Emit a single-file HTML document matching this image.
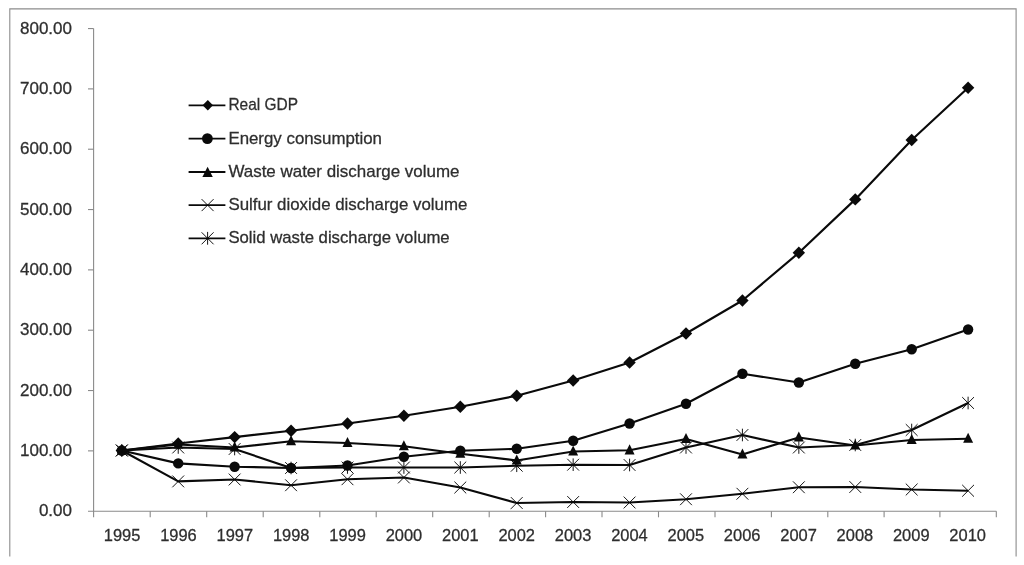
<!DOCTYPE html>
<html><head><meta charset="utf-8"><title>chart</title>
<style>
html,body{margin:0;padding:0;background:#fff;}
body{width:1024px;height:565px;overflow:hidden;}
svg{display:block;will-change:transform;}
text{font-family:"Liberation Sans",sans-serif;fill:#2e2e2e;stroke:#2e2e2e;stroke-width:0.28px;}
</style></head><body>
<svg width="1024" height="565" viewBox="0 0 1024 565">
<rect width="1024" height="565" fill="#fff"/>
<path d="M9.8 556.4V8.9H1016.1V556.4" fill="none" stroke="#8c8c8c" stroke-width="1.1"/>
<path d="M93.60 28.6V517.30" stroke="#8a8a8a" stroke-width="1.1" fill="none"/>
<path d="M88.00 511.20H996.40" stroke="#8a8a8a" stroke-width="1.1" fill="none"/>
<text x="38.90" y="516.30" font-size="17" textLength="33.1" lengthAdjust="spacingAndGlyphs">0.00</text>
<path d="M88.00 450.87H93.60" stroke="#8a8a8a" stroke-width="1.1" fill="none"/>
<text x="20.00" y="455.97" font-size="17" textLength="52.0" lengthAdjust="spacingAndGlyphs">100.00</text>
<path d="M88.00 390.54H93.60" stroke="#8a8a8a" stroke-width="1.1" fill="none"/>
<text x="20.00" y="395.64" font-size="17" textLength="52.0" lengthAdjust="spacingAndGlyphs">200.00</text>
<path d="M88.00 330.21H93.60" stroke="#8a8a8a" stroke-width="1.1" fill="none"/>
<text x="20.00" y="335.31" font-size="17" textLength="52.0" lengthAdjust="spacingAndGlyphs">300.00</text>
<path d="M88.00 269.88H93.60" stroke="#8a8a8a" stroke-width="1.1" fill="none"/>
<text x="20.00" y="274.98" font-size="17" textLength="52.0" lengthAdjust="spacingAndGlyphs">400.00</text>
<path d="M88.00 209.55H93.60" stroke="#8a8a8a" stroke-width="1.1" fill="none"/>
<text x="20.00" y="214.65" font-size="17" textLength="52.0" lengthAdjust="spacingAndGlyphs">500.00</text>
<path d="M88.00 149.22H93.60" stroke="#8a8a8a" stroke-width="1.1" fill="none"/>
<text x="20.00" y="154.32" font-size="17" textLength="52.0" lengthAdjust="spacingAndGlyphs">600.00</text>
<path d="M88.00 88.89H93.60" stroke="#8a8a8a" stroke-width="1.1" fill="none"/>
<text x="20.00" y="93.99" font-size="17" textLength="52.0" lengthAdjust="spacingAndGlyphs">700.00</text>
<path d="M88.00 28.56H93.60" stroke="#8a8a8a" stroke-width="1.1" fill="none"/>
<text x="20.00" y="33.66" font-size="17" textLength="52.0" lengthAdjust="spacingAndGlyphs">800.00</text>
<path d="M150.20 511.20V517.30" stroke="#8a8a8a" stroke-width="1.1" fill="none"/>
<path d="M206.70 511.20V517.30" stroke="#8a8a8a" stroke-width="1.1" fill="none"/>
<path d="M263.20 511.20V517.30" stroke="#8a8a8a" stroke-width="1.1" fill="none"/>
<path d="M319.80 511.20V517.30" stroke="#8a8a8a" stroke-width="1.1" fill="none"/>
<path d="M376.20 511.20V517.30" stroke="#8a8a8a" stroke-width="1.1" fill="none"/>
<path d="M432.70 511.20V517.30" stroke="#8a8a8a" stroke-width="1.1" fill="none"/>
<path d="M489.20 511.20V517.30" stroke="#8a8a8a" stroke-width="1.1" fill="none"/>
<path d="M545.60 511.20V517.30" stroke="#8a8a8a" stroke-width="1.1" fill="none"/>
<path d="M602.00 511.20V517.30" stroke="#8a8a8a" stroke-width="1.1" fill="none"/>
<path d="M658.50 511.20V517.30" stroke="#8a8a8a" stroke-width="1.1" fill="none"/>
<path d="M715.00 511.20V517.30" stroke="#8a8a8a" stroke-width="1.1" fill="none"/>
<path d="M771.40 511.20V517.30" stroke="#8a8a8a" stroke-width="1.1" fill="none"/>
<path d="M827.80 511.20V517.30" stroke="#8a8a8a" stroke-width="1.1" fill="none"/>
<path d="M884.10 511.20V517.30" stroke="#8a8a8a" stroke-width="1.1" fill="none"/>
<path d="M939.90 511.20V517.30" stroke="#8a8a8a" stroke-width="1.1" fill="none"/>
<path d="M996.30 511.20V517.30" stroke="#8a8a8a" stroke-width="1.1" fill="none"/>
<text x="103.80" y="541.1" font-size="17" textLength="36.6" lengthAdjust="spacingAndGlyphs">1995</text>
<text x="160.17" y="541.1" font-size="17" textLength="36.6" lengthAdjust="spacingAndGlyphs">1996</text>
<text x="216.54" y="541.1" font-size="17" textLength="36.6" lengthAdjust="spacingAndGlyphs">1997</text>
<text x="272.91" y="541.1" font-size="17" textLength="36.6" lengthAdjust="spacingAndGlyphs">1998</text>
<text x="329.28" y="541.1" font-size="17" textLength="36.6" lengthAdjust="spacingAndGlyphs">1999</text>
<text x="385.65" y="541.1" font-size="17" textLength="36.6" lengthAdjust="spacingAndGlyphs">2000</text>
<text x="442.02" y="541.1" font-size="17" textLength="36.6" lengthAdjust="spacingAndGlyphs">2001</text>
<text x="498.39" y="541.1" font-size="17" textLength="36.6" lengthAdjust="spacingAndGlyphs">2002</text>
<text x="554.76" y="541.1" font-size="17" textLength="36.6" lengthAdjust="spacingAndGlyphs">2003</text>
<text x="611.13" y="541.1" font-size="17" textLength="36.6" lengthAdjust="spacingAndGlyphs">2004</text>
<text x="667.50" y="541.1" font-size="17" textLength="36.6" lengthAdjust="spacingAndGlyphs">2005</text>
<text x="723.87" y="541.1" font-size="17" textLength="36.6" lengthAdjust="spacingAndGlyphs">2006</text>
<text x="780.24" y="541.1" font-size="17" textLength="36.6" lengthAdjust="spacingAndGlyphs">2007</text>
<text x="836.61" y="541.1" font-size="17" textLength="36.6" lengthAdjust="spacingAndGlyphs">2008</text>
<text x="892.98" y="541.1" font-size="17" textLength="36.6" lengthAdjust="spacingAndGlyphs">2009</text>
<text x="949.35" y="541.1" font-size="17" textLength="36.6" lengthAdjust="spacingAndGlyphs">2010</text>
<polyline fill="none" stroke="#0a0a0a" stroke-width="2.15" stroke-linejoin="round" points="121.80,450.50 178.22,443.50 234.64,437.10 291.06,430.75 347.48,423.50 403.90,415.75 460.32,406.75 516.74,395.75 573.16,380.50 629.58,362.50 686.00,333.50 742.42,300.50 798.84,252.75 855.26,199.40 911.68,140.00 968.10,87.75"/>
<path d="M121.80 444.30L128.00 450.50L121.80 456.70L115.60 450.50Z" fill="#0a0a0a"/>
<path d="M178.22 437.30L184.42 443.50L178.22 449.70L172.02 443.50Z" fill="#0a0a0a"/>
<path d="M234.64 430.90L240.84 437.10L234.64 443.30L228.44 437.10Z" fill="#0a0a0a"/>
<path d="M291.06 424.55L297.26 430.75L291.06 436.95L284.86 430.75Z" fill="#0a0a0a"/>
<path d="M347.48 417.30L353.68 423.50L347.48 429.70L341.28 423.50Z" fill="#0a0a0a"/>
<path d="M403.90 409.55L410.10 415.75L403.90 421.95L397.70 415.75Z" fill="#0a0a0a"/>
<path d="M460.32 400.55L466.52 406.75L460.32 412.95L454.12 406.75Z" fill="#0a0a0a"/>
<path d="M516.74 389.55L522.94 395.75L516.74 401.95L510.54 395.75Z" fill="#0a0a0a"/>
<path d="M573.16 374.30L579.36 380.50L573.16 386.70L566.96 380.50Z" fill="#0a0a0a"/>
<path d="M629.58 356.30L635.78 362.50L629.58 368.70L623.38 362.50Z" fill="#0a0a0a"/>
<path d="M686.00 327.30L692.20 333.50L686.00 339.70L679.80 333.50Z" fill="#0a0a0a"/>
<path d="M742.42 294.30L748.62 300.50L742.42 306.70L736.22 300.50Z" fill="#0a0a0a"/>
<path d="M798.84 246.55L805.04 252.75L798.84 258.95L792.64 252.75Z" fill="#0a0a0a"/>
<path d="M855.26 193.20L861.46 199.40L855.26 205.60L849.06 199.40Z" fill="#0a0a0a"/>
<path d="M911.68 133.80L917.88 140.00L911.68 146.20L905.48 140.00Z" fill="#0a0a0a"/>
<path d="M968.10 81.55L974.30 87.75L968.10 93.95L961.90 87.75Z" fill="#0a0a0a"/>
<polyline fill="none" stroke="#0a0a0a" stroke-width="2.15" stroke-linejoin="round" points="121.80,450.50 178.22,463.40 234.64,466.70 291.06,468.00 347.48,465.50 403.90,456.75 460.32,450.75 516.74,448.75 573.16,440.75 629.58,423.50 686.00,403.75 742.42,373.75 798.84,382.50 855.26,363.75 911.68,349.25 968.10,329.50"/>
<circle cx="121.80" cy="450.50" r="5.2" fill="#0a0a0a"/>
<circle cx="178.22" cy="463.40" r="5.2" fill="#0a0a0a"/>
<circle cx="234.64" cy="466.70" r="5.2" fill="#0a0a0a"/>
<circle cx="291.06" cy="468.00" r="5.2" fill="#0a0a0a"/>
<circle cx="347.48" cy="465.50" r="5.2" fill="#0a0a0a"/>
<circle cx="403.90" cy="456.75" r="5.2" fill="#0a0a0a"/>
<circle cx="460.32" cy="450.75" r="5.2" fill="#0a0a0a"/>
<circle cx="516.74" cy="448.75" r="5.2" fill="#0a0a0a"/>
<circle cx="573.16" cy="440.75" r="5.2" fill="#0a0a0a"/>
<circle cx="629.58" cy="423.50" r="5.2" fill="#0a0a0a"/>
<circle cx="686.00" cy="403.75" r="5.2" fill="#0a0a0a"/>
<circle cx="742.42" cy="373.75" r="5.2" fill="#0a0a0a"/>
<circle cx="798.84" cy="382.50" r="5.2" fill="#0a0a0a"/>
<circle cx="855.26" cy="363.75" r="5.2" fill="#0a0a0a"/>
<circle cx="911.68" cy="349.25" r="5.2" fill="#0a0a0a"/>
<circle cx="968.10" cy="329.50" r="5.2" fill="#0a0a0a"/>
<polyline fill="none" stroke="#0a0a0a" stroke-width="2.15" stroke-linejoin="round" points="121.80,450.50 178.22,444.50 234.64,447.50 291.06,441.25 347.48,443.00 403.90,446.25 460.32,453.75 516.74,460.50 573.16,451.50 629.58,450.30 686.00,439.00 742.42,454.50 798.84,437.50 855.26,445.50 911.68,440.00 968.10,438.75"/>
<path d="M121.80 444.50L126.80 454.60L116.80 454.60Z" fill="#0a0a0a"/>
<path d="M178.22 438.50L183.22 448.60L173.22 448.60Z" fill="#0a0a0a"/>
<path d="M234.64 441.50L239.64 451.60L229.64 451.60Z" fill="#0a0a0a"/>
<path d="M291.06 435.25L296.06 445.35L286.06 445.35Z" fill="#0a0a0a"/>
<path d="M347.48 437.00L352.48 447.10L342.48 447.10Z" fill="#0a0a0a"/>
<path d="M403.90 440.25L408.90 450.35L398.90 450.35Z" fill="#0a0a0a"/>
<path d="M460.32 447.75L465.32 457.85L455.32 457.85Z" fill="#0a0a0a"/>
<path d="M516.74 454.50L521.74 464.60L511.74 464.60Z" fill="#0a0a0a"/>
<path d="M573.16 445.50L578.16 455.60L568.16 455.60Z" fill="#0a0a0a"/>
<path d="M629.58 444.30L634.58 454.40L624.58 454.40Z" fill="#0a0a0a"/>
<path d="M686.00 433.00L691.00 443.10L681.00 443.10Z" fill="#0a0a0a"/>
<path d="M742.42 448.50L747.42 458.60L737.42 458.60Z" fill="#0a0a0a"/>
<path d="M798.84 431.50L803.84 441.60L793.84 441.60Z" fill="#0a0a0a"/>
<path d="M855.26 439.50L860.26 449.60L850.26 449.60Z" fill="#0a0a0a"/>
<path d="M911.68 434.00L916.68 444.10L906.68 444.10Z" fill="#0a0a0a"/>
<path d="M968.10 432.75L973.10 442.85L963.10 442.85Z" fill="#0a0a0a"/>
<polyline fill="none" stroke="#0a0a0a" stroke-width="2.15" stroke-linejoin="round" points="121.80,450.50 178.22,481.40 234.64,479.50 291.06,485.25 347.48,479.25 403.90,477.50 460.32,487.50 516.74,503.00 573.16,502.00 629.58,502.50 686.00,499.25 742.42,493.75 798.84,487.25 855.26,487.00 911.68,489.50 968.10,490.75"/>
<path d="M115.90 444.60L127.70 456.40M115.90 456.40L127.70 444.60" stroke="#0a0a0a" stroke-width="0.95" fill="none"/>
<path d="M172.32 475.50L184.12 487.30M172.32 487.30L184.12 475.50" stroke="#0a0a0a" stroke-width="0.95" fill="none"/>
<path d="M228.74 473.60L240.54 485.40M228.74 485.40L240.54 473.60" stroke="#0a0a0a" stroke-width="0.95" fill="none"/>
<path d="M285.16 479.35L296.96 491.15M285.16 491.15L296.96 479.35" stroke="#0a0a0a" stroke-width="0.95" fill="none"/>
<path d="M341.58 473.35L353.38 485.15M341.58 485.15L353.38 473.35" stroke="#0a0a0a" stroke-width="0.95" fill="none"/>
<path d="M398.00 471.60L409.80 483.40M398.00 483.40L409.80 471.60" stroke="#0a0a0a" stroke-width="0.95" fill="none"/>
<path d="M454.42 481.60L466.22 493.40M454.42 493.40L466.22 481.60" stroke="#0a0a0a" stroke-width="0.95" fill="none"/>
<path d="M510.84 497.10L522.64 508.90M510.84 508.90L522.64 497.10" stroke="#0a0a0a" stroke-width="0.95" fill="none"/>
<path d="M567.26 496.10L579.06 507.90M567.26 507.90L579.06 496.10" stroke="#0a0a0a" stroke-width="0.95" fill="none"/>
<path d="M623.68 496.60L635.48 508.40M623.68 508.40L635.48 496.60" stroke="#0a0a0a" stroke-width="0.95" fill="none"/>
<path d="M680.10 493.35L691.90 505.15M680.10 505.15L691.90 493.35" stroke="#0a0a0a" stroke-width="0.95" fill="none"/>
<path d="M736.52 487.85L748.32 499.65M736.52 499.65L748.32 487.85" stroke="#0a0a0a" stroke-width="0.95" fill="none"/>
<path d="M792.94 481.35L804.74 493.15M792.94 493.15L804.74 481.35" stroke="#0a0a0a" stroke-width="0.95" fill="none"/>
<path d="M849.36 481.10L861.16 492.90M849.36 492.90L861.16 481.10" stroke="#0a0a0a" stroke-width="0.95" fill="none"/>
<path d="M905.78 483.60L917.58 495.40M905.78 495.40L917.58 483.60" stroke="#0a0a0a" stroke-width="0.95" fill="none"/>
<path d="M962.20 484.85L974.00 496.65M962.20 496.65L974.00 484.85" stroke="#0a0a0a" stroke-width="0.95" fill="none"/>
<polyline fill="none" stroke="#0a0a0a" stroke-width="2.15" stroke-linejoin="round" points="121.80,450.50 178.22,447.50 234.64,449.00 291.06,468.00 347.48,467.50 403.90,467.50 460.32,467.50 516.74,465.75 573.16,464.70 629.58,465.00 686.00,447.50 742.42,435.00 798.84,447.50 855.26,445.00 911.68,430.00 968.10,403.00"/>
<path d="M115.90 444.60L127.70 456.40M115.90 456.40L127.70 444.60M121.80 444.20L121.80 456.80" stroke="#0a0a0a" stroke-width="0.95" fill="none"/>
<path d="M172.32 441.60L184.12 453.40M172.32 453.40L184.12 441.60M178.22 441.20L178.22 453.80" stroke="#0a0a0a" stroke-width="0.95" fill="none"/>
<path d="M228.74 443.10L240.54 454.90M228.74 454.90L240.54 443.10M234.64 442.70L234.64 455.30" stroke="#0a0a0a" stroke-width="0.95" fill="none"/>
<path d="M285.16 462.10L296.96 473.90M285.16 473.90L296.96 462.10M291.06 461.70L291.06 474.30" stroke="#0a0a0a" stroke-width="0.95" fill="none"/>
<path d="M341.58 461.60L353.38 473.40M341.58 473.40L353.38 461.60M347.48 461.20L347.48 473.80" stroke="#0a0a0a" stroke-width="0.95" fill="none"/>
<path d="M398.00 461.60L409.80 473.40M398.00 473.40L409.80 461.60M403.90 461.20L403.90 473.80" stroke="#0a0a0a" stroke-width="0.95" fill="none"/>
<path d="M454.42 461.60L466.22 473.40M454.42 473.40L466.22 461.60M460.32 461.20L460.32 473.80" stroke="#0a0a0a" stroke-width="0.95" fill="none"/>
<path d="M510.84 459.85L522.64 471.65M510.84 471.65L522.64 459.85M516.74 459.45L516.74 472.05" stroke="#0a0a0a" stroke-width="0.95" fill="none"/>
<path d="M567.26 458.80L579.06 470.60M567.26 470.60L579.06 458.80M573.16 458.40L573.16 471.00" stroke="#0a0a0a" stroke-width="0.95" fill="none"/>
<path d="M623.68 459.10L635.48 470.90M623.68 470.90L635.48 459.10M629.58 458.70L629.58 471.30" stroke="#0a0a0a" stroke-width="0.95" fill="none"/>
<path d="M680.10 441.60L691.90 453.40M680.10 453.40L691.90 441.60M686.00 441.20L686.00 453.80" stroke="#0a0a0a" stroke-width="0.95" fill="none"/>
<path d="M736.52 429.10L748.32 440.90M736.52 440.90L748.32 429.10M742.42 428.70L742.42 441.30" stroke="#0a0a0a" stroke-width="0.95" fill="none"/>
<path d="M792.94 441.60L804.74 453.40M792.94 453.40L804.74 441.60M798.84 441.20L798.84 453.80" stroke="#0a0a0a" stroke-width="0.95" fill="none"/>
<path d="M849.36 439.10L861.16 450.90M849.36 450.90L861.16 439.10M855.26 438.70L855.26 451.30" stroke="#0a0a0a" stroke-width="0.95" fill="none"/>
<path d="M905.78 424.10L917.58 435.90M905.78 435.90L917.58 424.10M911.68 423.70L911.68 436.30" stroke="#0a0a0a" stroke-width="0.95" fill="none"/>
<path d="M962.20 397.10L974.00 408.90M962.20 408.90L974.00 397.10M968.10 396.70L968.10 409.30" stroke="#0a0a0a" stroke-width="0.95" fill="none"/>
<path d="M188.6 105.30H225.4" stroke="#0a0a0a" stroke-width="1.8" fill="none"/>
<path d="M207.80 100.10L213.00 105.30L207.80 110.50L202.60 105.30Z" fill="#0a0a0a"/>
<text x="228.4" y="110.30" font-size="17" textLength="69.6" lengthAdjust="spacingAndGlyphs">Real GDP</text>
<path d="M188.6 138.60H225.4" stroke="#0a0a0a" stroke-width="1.8" fill="none"/>
<circle cx="207.40" cy="138.60" r="5.4" fill="#0a0a0a"/>
<text x="228.4" y="143.60" font-size="17" textLength="153.6" lengthAdjust="spacingAndGlyphs">Energy consumption</text>
<path d="M188.6 172.00H225.4" stroke="#0a0a0a" stroke-width="1.8" fill="none"/>
<path d="M207.60 166.70L212.80 177.10L202.40 177.10Z" fill="#0a0a0a"/>
<text x="228.4" y="177.00" font-size="17" textLength="231.1" lengthAdjust="spacingAndGlyphs">Waste water discharge volume</text>
<path d="M188.6 205.10H225.4" stroke="#0a0a0a" stroke-width="1.8" fill="none"/>
<path d="M201.60 199.10L213.60 211.10M201.60 211.10L213.60 199.10" stroke="#0a0a0a" stroke-width="0.95" fill="none"/>
<text x="228.4" y="210.10" font-size="17" textLength="239.0" lengthAdjust="spacingAndGlyphs">Sulfur dioxide discharge volume</text>
<path d="M188.6 238.30H225.4" stroke="#0a0a0a" stroke-width="1.8" fill="none"/>
<path d="M201.60 232.30L213.60 244.30M201.60 244.30L213.60 232.30M207.60 231.90L207.60 244.70" stroke="#0a0a0a" stroke-width="0.95" fill="none"/>
<text x="228.4" y="243.30" font-size="17" textLength="221.3" lengthAdjust="spacingAndGlyphs">Solid waste discharge volume</text>
</svg></body></html>
